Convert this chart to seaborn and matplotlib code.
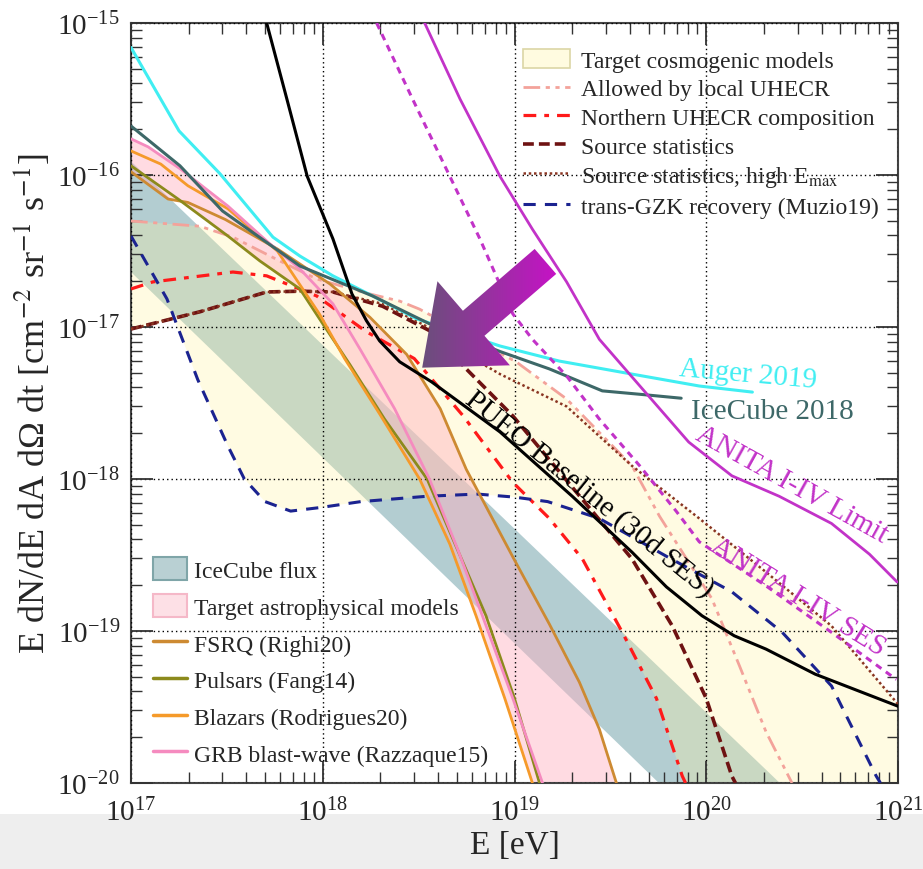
import numpy as np
import matplotlib
matplotlib.use("Agg")
import matplotlib.pyplot as plt
from matplotlib.patches import Patch, Polygon, Rectangle
from matplotlib.lines import Line2D
from matplotlib.colors import LinearSegmentedColormap
from matplotlib.ticker import LogLocator, NullFormatter
import seaborn as sns


# ---- fluxes: E [eV] vs E dN/dE dA dOmega dt [cm^-2 sr^-1 s^-1] ----

# experimental limits
auger_E = [1.0e17, 1.78e17, 2.91e17, 5.5e17, 7.6e17, 1.13e18, 1.82e18, 3.1e18, 8.4e18, 1.71e19, 4.1e19, 9.2e19, 1.74e20]
auger_F = [6.9e-16, 1.95e-16, 1.02e-16, 3.9e-17, 2.93e-17, 2.17e-17, 1.6e-17, 1.13e-17, 7.5e-18, 5.97e-18, 4.9e-18, 4.09e-18, 3.73e-18]

icecube18_E = [1.0e17, 1.8e17, 3.0e17, 7.6e17, 1.82e18, 3.6e18, 8.4e18, 1.52e19, 2.87e19, 4.6e19, 7.4e19]
icecube18_F = [2.1e-16, 1.15e-16, 5.8e-17, 2.52e-17, 1.6e-17, 1.05e-17, 6.9e-18, 5.3e-18, 3.8e-18, 3.6e-18, 3.4e-18]

anita_lim_E = [3.4e18, 5.2e18, 8.4e18, 1.24e19, 1.87e19, 2.77e19, 4.5e19, 8.1e19, 1.36e20, 2.4e20, 4.5e20, 7.1e20, 9.9e20]
anita_lim_F = [1.0e-15, 3.16e-16, 9.8e-17, 4.4e-17, 1.98e-17, 8.3e-18, 4.1e-18, 1.75e-18, 1.05e-18, 7.7e-19, 5.1e-19, 3.2e-19, 2.1e-19]

anita_ses_E = [1.91e18, 2.94e18, 4.6e18, 6.6e18, 9.8e18, 1.24e19, 1.87e19, 2.77e19, 4.5e19, 7.0e19, 9.2e19, 2.05e20, 4.5e20, 9.8e20]
anita_ses_F = [1.0e-15, 3.16e-16, 9.8e-17, 3.8e-17, 1.22e-17, 8.3e-18, 4.76e-18, 2.48e-18, 1.22e-18, 6.1e-19, 3.86e-19, 1.98e-19, 9.8e-20, 4.8e-20]

pueo_E = [5.1e17, 6.5e17, 8.3e17, 1.13e18, 1.42e18, 1.69e18, 1.98e18, 2.52e18, 3.7e18, 8.4e18, 2.0e19, 4.1e19,
          6.2e19, 9.5e19, 1.4e20, 2.05e20, 3.7e20, 1.0e21]
pueo_F = [1.0e-15, 3.16e-16, 9.8e-17, 3.8e-17, 1.65e-17, 1.1e-17, 8.1e-18, 5.9e-18, 4.35e-18, 2.04e-18, 7.7e-19, 3.3e-19,
          1.95e-19, 1.26e-19, 9.3e-20, 7.6e-20, 5.2e-20, 3.2e-20]

# cosmogenic models
local_E = [1.0e17, 2.29e17, 3.4e17, 5.97e17, 9.3e17, 1.69e18, 2.52e18, 3.2e18, 1.02e19, 1.87e19, 4.1e19, 5.7e19, 1.07e20, 1.49e20, 2.05e20, 2.8e20]
local_F = [4.98e-17, 4.6e-17, 3.9e-17, 2.72e-17, 2.07e-17, 1.67e-17, 1.48e-17, 1.31e-17, 5.9e-18, 3.36e-18, 1.22e-18, 5.7e-19, 1.63e-19, 5.9e-20, 2.17e-20, 1.0e-20]

north_E = [1.0e17, 1.3e17, 3.4e17, 5.1e17, 9.3e17, 1.69e18, 3.0e18, 5.4e18, 9.8e18, 1.52e19, 2.26e19, 3.65e19, 5.5e19, 7.5e19, 7.8e19]
north_F = [1.78e-17, 1.98e-17, 2.3e-17, 2.17e-17, 1.6e-17, 9.3e-18, 6.2e-18, 2.6e-18, 9.5e-19, 5.5e-19, 2.98e-19, 9.8e-20, 3.6e-20, 1.11e-20, 1.0e-20]

srcstat_E = [1.0e17, 2.29e17, 5.1e17, 7.6e17, 1.13e18, 2.05e18, 3.7e18, 5.6e18, 9.8e18, 4.1e19, 6.65e19, 1.0e20, 1.36e20, 1.42e20]
srcstat_F = [9.7e-18, 1.26e-17, 1.7e-17, 1.72e-17, 1.7e-17, 1.37e-17, 9.3e-18, 5.3e-18, 2.6e-18, 2.98e-19, 1.08e-19, 3.6e-20, 1.11e-20, 1.0e-20]

srcstat_hi_E = [1.0e17, 2.29e17, 5.1e17, 7.6e17, 1.13e18, 2.05e18, 3.7e18, 5.6e18, 8.4e18, 1.87e19, 4.1e19, 9.2e19, 2.05e20, 4.5e20, 1.0e21]
srcstat_hi_F = [9.7e-18, 1.26e-17, 1.7e-17, 1.72e-17, 1.7e-17, 1.42e-17, 9.7e-18, 6.6e-18, 4.9e-18, 3.0e-18, 1.22e-18, 5.5e-19, 2.44e-19, 1.08e-19, 3.3e-20]

gzk_E = [1.0e17, 1.54e17, 2.23e17, 3.2e17, 3.9e17, 5.0e17, 6.8e17, 9.8e17, 1.58e18, 3.5e18, 6.4e18, 1.0e19, 1.49e19, 2.77e19, 6.2e19, 1.36e20, 2.49e20, 4.5e20, 7.7e20, 8.1e20]
gzk_F = [3.97e-17, 1.53e-17, 4.5e-18, 1.65e-18, 1.0e-18, 7.1e-19, 6.15e-19, 6.5e-19, 7.1e-19, 7.7e-19, 7.96e-19, 7.6e-19, 7.1e-19, 5.5e-19, 3.1e-19, 1.81e-19, 9.8e-20, 4.35e-20, 1.11e-20, 1.0e-20]

# astrophysical models
fsrq_E = [1.0e17, 1.56e17, 1.98e17, 3.1e17, 5.8e17, 1.09e18, 1.76e18, 2.74e18, 4.1e18, 5.6e18, 9.8e18, 1.52e19, 2.18e19, 2.77e19, 3.4e19]
fsrq_F = [1.05e-16, 6.95e-17, 6.6e-17, 5.1e-17, 3.26e-17, 1.92e-17, 1.16e-17, 6.6e-18, 2.9e-18, 1.16e-18, 3.07e-19, 1.11e-19, 4.6e-20, 2.26e-20, 1.0e-20]

pulsar_E = [1.0e17, 1.76e17, 3.2e17, 4.7e17, 7.6e17, 1.0e18, 1.38e18, 2.1e18, 3.5e18, 4.9e18, 7.1e18, 1.0e19, 1.35e19]
pulsar_F = [1.15e-16, 6.95e-17, 3.97e-17, 2.72e-17, 1.78e-17, 1.05e-17, 5.7e-18, 2.48e-18, 1.0e-18, 3.73e-19, 1.26e-19, 3.6e-20, 1.0e-20]

blazar_E = [1.0e17, 1.43e17, 1.98e17, 3.2e17, 5.8e17, 9.6e17, 1.3e18, 1.98e18, 3.2e18, 4.6e18, 6.3e18, 8.9e18, 1.24e19]
blazar_F = [1.44e-16, 1.18e-16, 8.5e-17, 6.0e-17, 3.16e-17, 1.22e-17, 6.2e-18, 2.68e-18, 1.0e-18, 3.73e-19, 1.26e-19, 3.6e-20, 1.0e-20]

grb_E = [1.0e17, 1.23e17, 1.82e17, 3.2e17, 5.2e17, 7.6e17, 1.13e18, 1.56e18, 2.37e18, 3.6e18, 5.05e18, 6.8e18, 9.8e18, 1.4e19]
grb_F = [1.73e-16, 1.53e-16, 1.09e-16, 6.25e-17, 3.6e-17, 2.41e-17, 1.42e-17, 7.2e-18, 2.9e-18, 1.0e-18, 3.46e-19, 1.26e-19, 3.6e-20, 1.0e-20]

# IceCube astrophysical flux band (straight power law edges)
icecube_band_E = [1.0e17, 1.0e21]
icecube_band_lo = [2.3e-17, 3.0e-22]
icecube_band_hi = [1.23e-16, 1.8e-21]

# purple pointer arrow (tip, tail) in data coordinates
arrow_tip = (3.3e18, 5.4e-18)
arrow_tail = (1.45e19, 2.7e-17)

# axis decades
x_decades = [1e17, 1e18, 1e19, 1e20, 1e21]
y_decades = [1e-20, 1e-19, 1e-18, 1e-17, 1e-16, 1e-15]


# ---- colours ----
c_auger = '#40eef2'
c_ic18 = '#3d6868'
c_anita = '#c233c8'
c_local = '#f3a29a'
c_north = '#ff1a1a'
c_src = '#6e1212'
c_srchi = '#8a3522'
c_gzk = '#1b2390'
c_fsrq = '#cd8a32'
c_pulsar = '#8c8a1c'
c_blazar = '#f59a2a'
c_grb = '#f58bbf'

ls_local = (0, (6, 2, 1.5, 2, 1.5, 2))
ls_north = (0, (4, 2.5, 1.5, 2.5))
ls_src = (0, (3, 1.4))
ls_srchi = (0, (1, 1.1))
ls_gzk = (0, (4, 3))
ls_ses = (0, (2.2, 1.8))


def log_envelope(curves, grid):
    # min / max of several curves on a common grid (log-log interpolation)
    lg = np.log10(grid)
    stack = np.array([np.interp(lg, np.log10(e), np.log10(f), right=-30) for e, f in curves])
    return 10 ** stack.min(axis=0), 10 ** stack.max(axis=0)


def draw_arrow(fig, ax, tip, tail, shaft_w, head_w, head_l):
    p_tip = ax.transData.transform(tip)
    p_tail = ax.transData.transform(tail)
    u = (p_tail - p_tip) / np.hypot(*(p_tail - p_tip))
    n = np.array([-u[1], u[0]])
    base = p_tip + u * head_l
    pts = np.array([p_tip, base + n * head_w / 2, base + n * shaft_w / 2, p_tail + n * shaft_w / 2,
                    p_tail - n * shaft_w / 2, base - n * shaft_w / 2, base - n * head_w / 2])
    pts = fig.transFigure.inverted().transform(pts)
    over = fig.add_axes([0, 0, 1, 1], zorder=5)
    over.patch.set_visible(False)
    over.axis('off')
    poly = Polygon(pts, closed=True, facecolor='none', edgecolor='none')
    over.add_patch(poly)
    x0, y0 = pts.min(axis=0)
    x1, y1 = pts.max(axis=0)
    cmap = LinearSegmentedColormap.from_list('arrow', ['#6a4f7b', '#c612c6'])
    im = over.imshow(np.linspace(0, 1, 256)[None, :], extent=[x0, x1, y0, y1], cmap=cmap,
                     aspect='auto', origin='lower', interpolation='bilinear')
    im.set_clip_path(poly)
    over.set_xlim(0, 1)
    over.set_ylim(0, 1)


sns.set_style('ticks')
plt.rcParams['font.family'] = ['Liberation Serif', 'DejaVu Serif']
plt.rcParams['mathtext.fontset'] = 'stix'

fig = plt.figure(figsize=(9.23, 8.7), dpi=100)
ax = fig.add_axes([131 / 923, 1 - 784 / 870, 767 / 923, 760 / 870])
ax.set_xscale('log')
ax.set_yscale('log')
ax.set_xlim(1e17, 1e21)
ax.set_ylim(1e-20, 1e-15)

# screenshot-ish grey strip at the bottom
fig.patches.append(Rectangle((0, 0), 1, 0.063, transform=fig.transFigure,
                             facecolor='#eeeeee', edgecolor='none', zorder=-5))

# bands
ax.fill_between(icecube_band_E, icecube_band_lo, icecube_band_hi, color='#b3cdd1', lw=0, zorder=1)

grid_E = np.logspace(17, 21, 800)
cos_lo, cos_hi = log_envelope([(local_E, local_F), (north_E, north_F), (srcstat_E, srcstat_F),
                               (srcstat_hi_E, srcstat_hi_F), (gzk_E, gzk_F)], grid_E)
ax.fill_between(grid_E, cos_lo, cos_hi, color='#fff3a0', alpha=0.3, lw=0, zorder=1.2)

ast_lo, ast_hi = log_envelope([(fsrq_E, fsrq_F), (pulsar_E, pulsar_F), (blazar_E, blazar_F),
                               (grb_E, grb_F)], grid_E)
ax.fill_between(grid_E, ast_lo, ast_hi, color='#ffb0c0', alpha=0.45, lw=0, zorder=1.4)


def curve(E, F, color, lw=2.0, ls='-', z=3):
    sns.lineplot(x=E, y=F, ax=ax, color=color, linewidth=lw, linestyle=ls,
                 estimator=None, errorbar=None, sort=False, zorder=z)


# cosmogenic
curve(local_E, local_F, c_local, 2.0, ls_local)
curve(north_E, north_F, c_north, 2.3, ls_north)
curve(srcstat_E, srcstat_F, c_src, 2.6, ls_src)
curve(srcstat_hi_E, srcstat_hi_F, c_srchi, 1.8, ls_srchi)
curve(gzk_E, gzk_F, c_gzk, 2.2, ls_gzk)
# astrophysical
curve(fsrq_E, fsrq_F, c_fsrq, 2.0)
curve(pulsar_E, pulsar_F, c_pulsar, 2.0)
curve(blazar_E, blazar_F, c_blazar, 2.0)
curve(grb_E, grb_F, c_grb, 2.0)
# limits / sensitivities
curve(auger_E, auger_F, c_auger, 2.2)
curve(icecube18_E, icecube18_F, c_ic18, 2.2)
curve(anita_lim_E, anita_lim_F, c_anita, 2.0)
curve(anita_ses_E, anita_ses_F, c_anita, 2.2, ls_ses)
curve(pueo_E, pueo_F, 'black', 2.2)

# curve labels
lab = dict(fontsize=21, ha='center', va='center', rotation_mode='anchor', zorder=6)
ax.text(1.64e20, 4.9e-18, 'Auger 2019', color=c_auger, rotation=-5, **lab)
ax.text(2.2e20, 2.8e-18, 'IceCube 2018', color=c_ic18, rotation=0, **lab)
ax.text(2.8e20, 9.3e-19, 'ANITA I-IV Limit', color=c_anita, rotation=-29, **lab)
ax.text(3.0e20, 1.7e-19, 'ANITA I-IV SES', color=c_anita, rotation=-32, **lab)
ax.text(2.45e19, 8.0e-19, 'PUEO Baseline (30d SES)', color='black', rotation=-39, **lab)

# axes styling
ax.set_xticks(x_decades)
ax.set_yticks(y_decades)
ax.xaxis.set_minor_locator(LogLocator(base=10, subs=np.arange(2, 10), numticks=20))
ax.yaxis.set_minor_locator(LogLocator(base=10, subs=np.arange(2, 10), numticks=20))
ax.xaxis.set_minor_formatter(NullFormatter())
ax.yaxis.set_minor_formatter(NullFormatter())
ax.set_xlim(1e17, 1e21)
ax.set_ylim(1e-20, 1e-15)

ax.grid(which='major', color='black', linestyle=(0, (1, 2.2)), linewidth=1.0)
ax.set_axisbelow(False)
ax.tick_params(which='major', direction='in', length=16, width=1.3, top=True, right=True,
               labelsize=21, color='#333333')
ax.tick_params(axis='x', which='major', pad=11)
ax.tick_params(axis='y', which='major', pad=8)
ax.tick_params(which='minor', direction='in', length=8, width=1.0, top=True, right=True,
               color='#333333')
for sp in ax.spines.values():
    sp.set_color('#444444')
    sp.set_linewidth(1.5)
ax.set_xlabel('E [eV]', fontsize=24, labelpad=2)
ax.set_ylabel('E dN/dE dA d\u03a9 dt [cm$^{-2}$ sr$^{-1}$ s$^{-1}$]', fontsize=26, labelpad=4)

# legends
cos_handles = [
    Patch(facecolor='#fffbe0', edgecolor='#dcd6a6', lw=1.2, label='Target cosmogenic models'),
    Line2D([], [], color=c_local, lw=2.0, ls=ls_local, label='Allowed by local UHECR'),
    Line2D([], [], color=c_north, lw=2.3, ls=ls_north, label='Northern UHECR composition'),
    Line2D([], [], color=c_src, lw=2.6, ls=ls_src, label='Source statistics'),
    Line2D([], [], color=c_srchi, lw=1.8, ls=ls_srchi, label=r'Source statistics, high E$_{\rm max}$'),
    Line2D([], [], color=c_gzk, lw=2.2, ls=ls_gzk, label='trans-GZK recovery (Muzio19)'),
]
leg1 = ax.legend(handles=cos_handles, loc='upper left', bbox_to_anchor=(0.505, 0.972),
                 frameon=False, fontsize=17, labelspacing=0.26, handlelength=2.0,
                 handleheight=0.85, handletextpad=0.45, borderaxespad=0, borderpad=0.2)
ax.add_artist(leg1)

ast_handles = [
    Patch(facecolor='#b9d0d3', edgecolor='#7fa5a8', lw=1.5, label='IceCube flux'),
    Patch(facecolor='#fde0e6', edgecolor='#f5b8c8', lw=1.5, label='Target astrophysical models'),
    Line2D([], [], color=c_fsrq, lw=2.5, label='FSRQ (Righi20)'),
    Line2D([], [], color=c_pulsar, lw=2.5, label='Pulsars (Fang14)'),
    Line2D([], [], color=c_blazar, lw=2.5, label='Blazars (Rodrigues20)'),
    Line2D([], [], color=c_grb, lw=2.5, label='GRB blast-wave (Razzaque15)'),
]
ax.legend(handles=ast_handles, loc='upper left', bbox_to_anchor=(0.022, 0.303),
          frameon=False, fontsize=17, labelspacing=0.53, handlelength=1.45,
          handleheight=1.1, handletextpad=0.3, borderaxespad=0, borderpad=0.2)

draw_arrow(fig, ax, arrow_tip, arrow_tail, shaft_w=33, head_w=111, head_l=68)

fig.savefig('out.png', dpi=100)
